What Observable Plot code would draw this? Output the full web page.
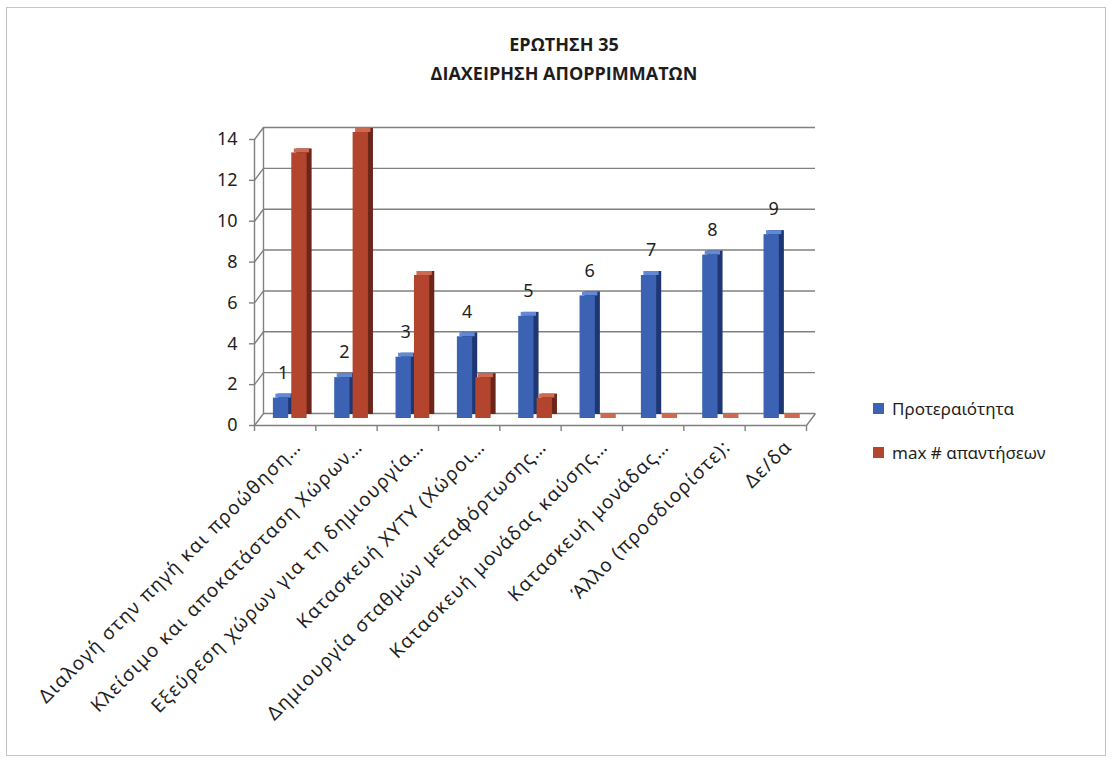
<!DOCTYPE html>
<html>
<head>
<meta charset="utf-8">
<script src="https://cdn.jsdelivr.net/npm/d3@7"></script>
<script src="https://cdn.jsdelivr.net/npm/@observablehq/plot@0.6"></script>
<style>
  html, body { margin: 0; padding: 0; background: #fff; }
  #wrap { position: relative; width: 1114px; height: 763px; overflow: hidden; font-family: "Noto Sans", "Open Sans", sans-serif; }
  #frame { position: absolute; left: 6px; top: 7px; width: 1100px; height: 749px; border: 1px solid #c4c4c4; box-sizing: border-box; }
  #title { position: absolute; left: 0; width: 1128px; top: 30px; text-align: center; font-family: "Open Sans", sans-serif; font-weight: bold; font-size: 18px; line-height: 29px; color: #1d1d1d; }
  #chart { position: absolute; left: 0; top: 90px; }
  #chart g[aria-label="x-axis tick label"] text { letter-spacing: 1.4px; }
  #legend { position: absolute; left: 873px; top: 386px; font-size: 17px; color: #1f1f1f; }
  .item { display: flex; align-items: center; height: 44px; }
  .sw { width: 11px; height: 11px; margin-right: 8px; }
</style>
</head>
<body>
<div id="wrap">
  <div id="frame"></div>
  <div id="title"></div>
  <div id="chart"></div>
  <div id="legend"></div>
</div>
<script>
// ---- data ----
const titleLines = ["ΕΡΩΤΗΣΗ 35", "ΔΙΑΧΕΙΡΗΣΗ ΑΠΟΡΡΙΜΜΑΤΩΝ"];
const categories = [
  "Διαλογή στην πηγή και προώθηση…",
  "Κλείσιμο και αποκατάσταση Χώρων…",
  "Εξεύρεση χώρων για τη δημιουργία…",
  "Κατασκευή ΧΥΤΥ (Χώροι…",
  "Δημιουργία σταθμών μεταφόρτωσης…",
  "Κατασκευή μονάδας καύσης…",
  "Κατασκευή μονάδας…",
  "Άλλο (προσδιορίστε):",
  "Δε/δα"
];
const priority = [1, 2, 3, 4, 5, 6, 7, 8, 9];
const maxAnswers = [13, 14, 7, 2, 1, 0, 0, 0, 0];
const seriesNames = ["Προτεραιότητα", "max # απαντήσεων"];
const yTicks = [0, 2, 4, 6, 8, 10, 12, 14];

// ---- styling ----
const blue = {front: "#3b62b3", side: "#1e3672", top: "#6189d6"};
const red = {front: "#b3452f", side: "#6b2519", top: "#cf6a52"};
const gridColor = "#808080";

document.getElementById("title").innerHTML = titleLines.map(t => `<div>${t}</div>`).join("");
document.getElementById("legend").innerHTML =
  [[seriesNames[0], blue.front], [seriesNames[1], red.front]]
    .map(([n, c]) => `<div class="item"><div class="sw" style="background:${c}"></div><span>${n}</span></div>`).join("");

const rows = categories.map((c, i) => ({i, cat: c, p: priority[i], m: maxAnswers[i]}));

// depth of the 3D box in data units (front plane vs back wall)
const DX = 9 / 61.33, DY = 12 / 20.43;
const TICKX = 5 / 61.33, TICKY = 6 / 20.43;
// bars sit at mid depth
const BDX = -3, BDY = 5;

function bars(field, a, b, col) {
  const o = {x1: d => d.i + a, x2: d => d.i + b};
  return [
    Plot.rectY(rows, {...o, y1: 0, y2: field, fill: col.side, dx: BDX + 5, dy: BDY - 4}),
    Plot.rect(rows, {...o, y1: field, y2: field, insetTop: -4, fill: col.top, dx: BDX + 2.5, dy: BDY}),
    Plot.rectY(rows, {...o, y1: 0, y2: field, fill: col.front, dx: BDX, dy: BDY})
  ];
}

const stroke = gridColor;
const chart = Plot.plot({
  width: 1114,
  height: 665,
  marginLeft: 263,
  marginRight: 299,
  marginTop: 37,
  marginBottom: 342,
  x: {domain: [0, 9], axis: null},
  y: {domain: [0, 14], axis: null},
  style: {fontFamily: "'Noto Sans', 'Open Sans', sans-serif", background: "transparent", overflow: "visible", color: "#1f1f1f"},
  marks: [
    // back wall gridlines
    Plot.ruleY(yTicks, {stroke, strokeWidth: 1.4}),
    Plot.ruleX([0], {y1: 0, y2: 14, stroke, strokeWidth: 1.4}),
    // side wall diagonals
    Plot.link(yTicks, {x1: -DX, y1: d => d - DY, x2: 0, y2: d => d, stroke, strokeWidth: 1.4}),
    // front axis line and ticks
    Plot.ruleX([-DX], {y1: -DY, y2: 14 - DY, stroke, strokeWidth: 1.4}),
    Plot.ruleY(yTicks, {y: d => d - DY, x1: -DX - TICKX, x2: -DX, stroke, strokeWidth: 1.4}),
    // floor
    Plot.ruleY([-DY], {x1: -DX, x2: 9 - DX, stroke, strokeWidth: 1.4}),
    Plot.link([0], {x1: 9 - DX, y1: -DY, x2: 9, y2: 0, stroke, strokeWidth: 1.4}),
    Plot.ruleX(d3.range(10), {x: d => d - DX, y1: -DY, y2: -DY - TICKY, stroke, strokeWidth: 1.4}),
    // bars
    ...bars("p", 0.21, 0.46, blue),
    ...bars("m", 0.51, 0.76, red),
    // data labels
    Plot.text(rows, {x: d => d.i + 0.335, y: "p", text: d => String(d.p), dy: BDY - 25, dx: BDX + 2, fontSize: 18, fill: "#1f1f1f"}),
    // y axis labels (front plane)
    Plot.axisY({ticks: yTicks, tickSize: 0, tickPadding: 26, dy: 12, fontSize: 18, label: null, fill: "#1f1f1f"}),
    // x axis labels (front plane)
    Plot.axisX({ticks: d3.range(9).map(i => i + 0.5), tickFormat: v => categories[Math.floor(v)], tickRotate: -45, tickSize: 0, tickPadding: 0, dx: 4, dy: 30, fontSize: 19, label: null, fill: "#1f1f1f"})
  ]
});
document.getElementById("chart").appendChild(chart);
</script>
</body>
</html>
